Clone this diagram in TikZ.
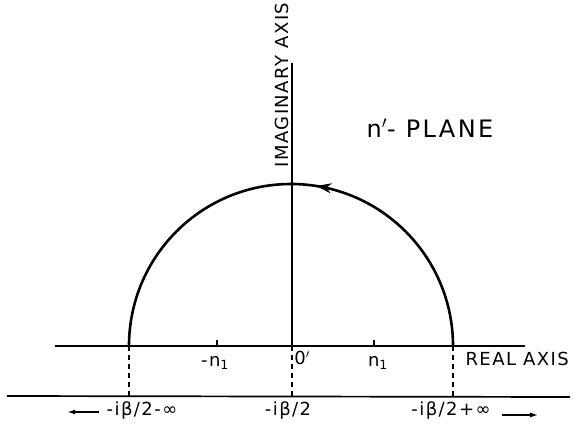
\documentclass[tikz,border=0pt]{standalone}
\usepackage{fontspec}
\setmainfont{DejaVu Sans}
\usepackage{tikz}
\usetikzlibrary{arrows.meta,decorations.markings}

\begin{document}
\begin{tikzpicture}[x=1pt,y=1pt,
    axis/.style={line width=1.7pt},
    contour/.style={line width=2.6pt},
    drop/.style={line width=1.2pt,dash pattern=on 5pt off 4pt},
    lbl/.style={font=\fontsize{18}{20}\selectfont\addfontfeatures{LetterSpace=8}},
    far/.style={-{Latex[length=8pt,width=5pt]},line width=1.4pt}]
    \useasboundingbox (-292,-78) rectangle (283,346);
    \coordinate (O) at (0,0);
    \coordinate (rl) at (-237,0);
    \coordinate (rr) at (233,0);
    \coordinate (lwl) at (-285,-50);
    \coordinate (lwr) at (278,-51);
    \coordinate (itop) at (0,283);
    \coordinate (A) at (-163,0);
    \coordinate (B) at (161,0);
    % axes
    \draw[axis] (rl) -- (rr);
    \draw[axis] (lwl) -- (lwr);
    \draw[axis] (O) -- (itop);
    % ticks for n_1
    \draw[line width=1.4pt] (-75,0) -- (-75,6);
    \draw[line width=1.4pt] (82,0) -- (82,6);
    % contour
    \draw[contour,postaction={decorate},
          decoration={markings,mark=at position 0.45 with {\arrow{Stealth[length=15pt,width=10pt]}}}]
        (B) arc (0:180:162);
    % dashed drops
    \draw[drop] (A) -- (A |- lwl);
    \draw[drop] (O) -- (O |- lwl);
    \draw[drop] (B) -- (B |- lwl);
    % labels
    \node[lbl,rotate=90] (imag) at (-10,261) {IMAGINARY AXIS};
    \node[font=\fontsize{24}{26}\selectfont\addfontfeatures{LetterSpace=10}] (plane) at (138,218) {n$'$- PLANE};
    \node[lbl,anchor=west] (real) at (170,-13) {REAL AXIS};
    \node[lbl] (mn) at (-77,-17) {-n\textsubscript{1}};
    \node[lbl] (pn) at (86,-17) {n\textsubscript{1}};
    \node[lbl] (op) at (10,-12) {0$'$};
    \node[lbl] (bl) at (-150,-64) {-iβ/2-∞};
    \node[lbl] (bm) at (-4,-64) {-iβ/2};
    \node[lbl] (br) at (159,-64) {-iβ/2+∞};
    \draw[far] (bl.west) ++(-4,-2) coordinate (la) -- ++(-32,0);
    \draw[far] (br.east) ++(8,-5) coordinate (ra) -- ++(36,0);
\end{tikzpicture}
\end{document}
